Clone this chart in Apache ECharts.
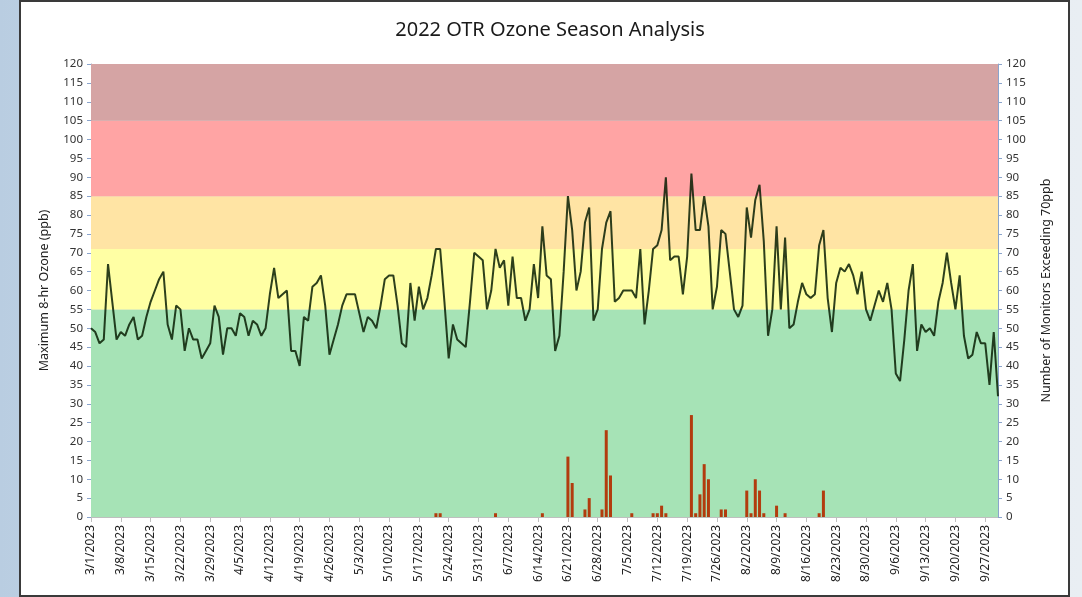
<!DOCTYPE html>
<html>
<head>
<meta charset="utf-8">
<script src="https://cdn.jsdelivr.net/npm/echarts@6/dist/echarts.min.js"></script>
<style>
  html, body { margin: 0; padding: 0; }
  body {
    width: 1082px; height: 597px; overflow: hidden; position: relative;
    background: linear-gradient(90deg, #b9cde1 0%, #d6e1ec 40%, #e9eef3 100%);
  }
  #frame {
    position: absolute; left: 19px; top: 0px; width: 1047px; height: 593px;
    background: #fff; border: 2px solid #3a3a3a;
  }
  #main { position: absolute; left: 0; top: 0; width: 1082px; height: 597px; }
</style>
</head>
<body>
<div id="frame"></div>
<div id="main"></div>
<script>
// season start, one point per day
const startDate = [2023, 3, 1];
const dayCount = 214;

// maximum 8-hr ozone (ppb), 3/1 .. 9/30
const ozone = [
  50, 49, 46, 47, 67, 57, 47, 49, 48, 51, 53, 47, 48, 53, 57, 60, 63, 65, 51, 47,
  56, 55, 44, 50, 47, 47, 42, 44, 46, 56, 53, 43, 50, 50, 48, 54, 53, 48, 52, 51,
  48, 50, 59, 66, 58, 59, 60, 44, 44, 40, 53, 52, 61, 62, 64, 56, 43, 47, 51, 56,
  59, 59, 59, 54, 49, 53, 52, 50, 56, 63, 64, 64, 56, 46, 45, 62, 52, 61, 55, 58,
  64, 71, 71, 57, 42, 51, 47, 46, 45, 57, 70, 69, 68, 55, 60, 71, 66, 68, 56, 69,
  58, 58, 52, 55, 67, 58, 77, 64, 63, 44, 48, 65, 85, 76, 60, 65, 78, 82, 52, 55,
  71, 78, 81, 57, 58, 60, 60, 60, 58, 71, 51, 60, 71, 72, 76, 90, 68, 69, 69, 59,
  69, 91, 76, 76, 85, 77, 55, 61, 76, 75, 65, 55, 53, 56, 82, 74, 84, 88, 73, 48,
  55, 77, 55, 74, 50, 51, 57, 62, 59, 58, 59, 72, 76, 58, 49, 62, 66, 65, 67, 64,
  59, 65, 55, 52, 56, 60, 57, 62, 55, 38, 36, 47, 60, 67, 44, 51, 49, 50, 48, 57,
  62, 70, 62, 55, 64, 48, 42, 43, 49, 46, 46, 35, 49, 32
];

// number of monitors exceeding 70 ppb
const monitors = [
  0, 0, 0, 0, 0, 0, 0, 0, 0, 0, 0, 0, 0, 0, 0, 0, 0, 0, 0, 0,
  0, 0, 0, 0, 0, 0, 0, 0, 0, 0, 0, 0, 0, 0, 0, 0, 0, 0, 0, 0,
  0, 0, 0, 0, 0, 0, 0, 0, 0, 0, 0, 0, 0, 0, 0, 0, 0, 0, 0, 0,
  0, 0, 0, 0, 0, 0, 0, 0, 0, 0, 0, 0, 0, 0, 0, 0, 0, 0, 0, 0,
  0, 1, 1, 0, 0, 0, 0, 0, 0, 0, 0, 0, 0, 0, 0, 1, 0, 0, 0, 0,
  0, 0, 0, 0, 0, 0, 1, 0, 0, 0, 0, 0, 16, 9, 0, 0, 2, 5, 0, 0,
  2, 23, 11, 0, 0, 0, 0, 1, 0, 0, 0, 0, 1, 1, 3, 1, 0, 0, 0, 0,
  0, 27, 1, 6, 14, 10, 0, 0, 2, 2, 0, 0, 0, 0, 7, 1, 10, 7, 1, 0,
  0, 3, 0, 1, 0, 0, 0, 0, 0, 0, 0, 1, 7, 0, 0, 0, 0, 0, 0, 0,
  0, 0, 0, 0, 0, 0, 0, 0, 0, 0, 0, 0, 0, 0, 0, 0, 0, 0, 0, 0,
  0, 0, 0, 0, 0, 0, 0, 0, 0, 0, 0, 0, 0, 0
];

// AQI-style background bands (ppb)
const bandEdges = [0, 55, 71, 85, 105, 120];
const bandColors = ['#a6e3b6', '#ffffa4', '#ffe4a4', '#ffa4a4', '#d5a4a4'];

let dates = [];
for (let i = 0; i < dayCount; i++) {
  let d = new Date(startDate[0], startDate[1] - 1, startDate[2] + i);
  dates.push((d.getMonth() + 1) + '/' + d.getDate() + '/' + d.getFullYear());
}

let bands = [];
for (let i = 0; i < bandColors.length; i++) {
  bands.push([
    {yAxis: bandEdges[i], itemStyle: {color: bandColors[i]}},
    {yAxis: bandEdges[i + 1]}
  ]);
}

const fontFam = '"Noto Sans", "Open Sans", sans-serif';
const myChart = echarts.init(document.getElementById('main'));

let option = {
  animation: false,
  backgroundColor: 'transparent',
  title: {
    text: '2022 OTR Ozone Season Analysis',
    left: 545,
    top: 15,
    textAlign: 'center',
    textStyle: {fontFamily: fontFam, fontSize: 20, fontWeight: 'normal', color: '#1a1a1a'}
  },
  grid: {left: 91, right: 84, top: 64, bottom: 80},
  xAxis: {
    type: 'category',
    data: dates,
    boundaryGap: false,
    axisLine: {lineStyle: {color: '#bfbfbf'}},
    axisTick: {
      length: 5,
      lineStyle: {color: '#bfbfbf'},
      interval: function (i) { return i % 7 === 0; }
    },
    axisLabel: {
      rotate: 90,
      fontFamily: fontFam,
      fontSize: 12,
      color: '#222',
      margin: 8,
      interval: function (i) { return i % 7 === 0; }
    },
    splitLine: {show: false}
  },
  yAxis: [
    {
      type: 'value',
      min: 0, max: 120, interval: 5,
      name: 'Maximum 8-hr Ozone (ppb)',
      nameLocation: 'middle',
      nameGap: 40,
      nameTextStyle: {fontFamily: fontFam, fontSize: 12.5, color: '#222'},
      axisLine: {show: true, lineStyle: {color: '#8aa4cc'}},
      axisTick: {show: true, length: 4, lineStyle: {color: '#8aa4cc'}},
      axisLabel: {fontFamily: fontFam, fontSize: 11.5, color: '#333', margin: 8},
      splitLine: {show: true, lineStyle: {color: 'rgba(0,0,0,0.13)', width: 1}}
    },
    {
      type: 'value',
      min: 0, max: 120, interval: 5,
      position: 'right',
      name: 'Number of Monitors Exceeding 70ppb',
      nameLocation: 'middle',
      nameGap: 42,
      nameRotate: 90,
      nameTextStyle: {fontFamily: fontFam, fontSize: 12.5, color: '#222'},
      axisLine: {show: true, lineStyle: {color: '#8aa4cc'}},
      axisTick: {show: true, length: 4, lineStyle: {color: '#8aa4cc'}},
      axisLabel: {fontFamily: fontFam, fontSize: 11.5, color: '#333', margin: 8},
      splitLine: {show: false}
    }
  ],
  series: [
    {
      // only carries the coloured bands, drawn under the grid lines
      type: 'line',
      data: ozone,
      z: -1,
      silent: true,
      showSymbol: false,
      lineStyle: {opacity: 0},
      markArea: {silent: true, data: bands}
    },
    {
      name: 'Monitors > 70ppb',
      type: 'bar',
      yAxisIndex: 1,
      data: monitors,
      barWidth: 3,
      itemStyle: {color: '#b23c0e'}
    },
    {
      name: 'Max 8-hr Ozone',
      type: 'line',
      data: ozone,
      showSymbol: false,
      lineStyle: {color: 'rgba(8,30,4,0.85)', width: 2},
      z: 5
    }
  ]
};
myChart.setOption(option);
</script>
</body>
</html>
